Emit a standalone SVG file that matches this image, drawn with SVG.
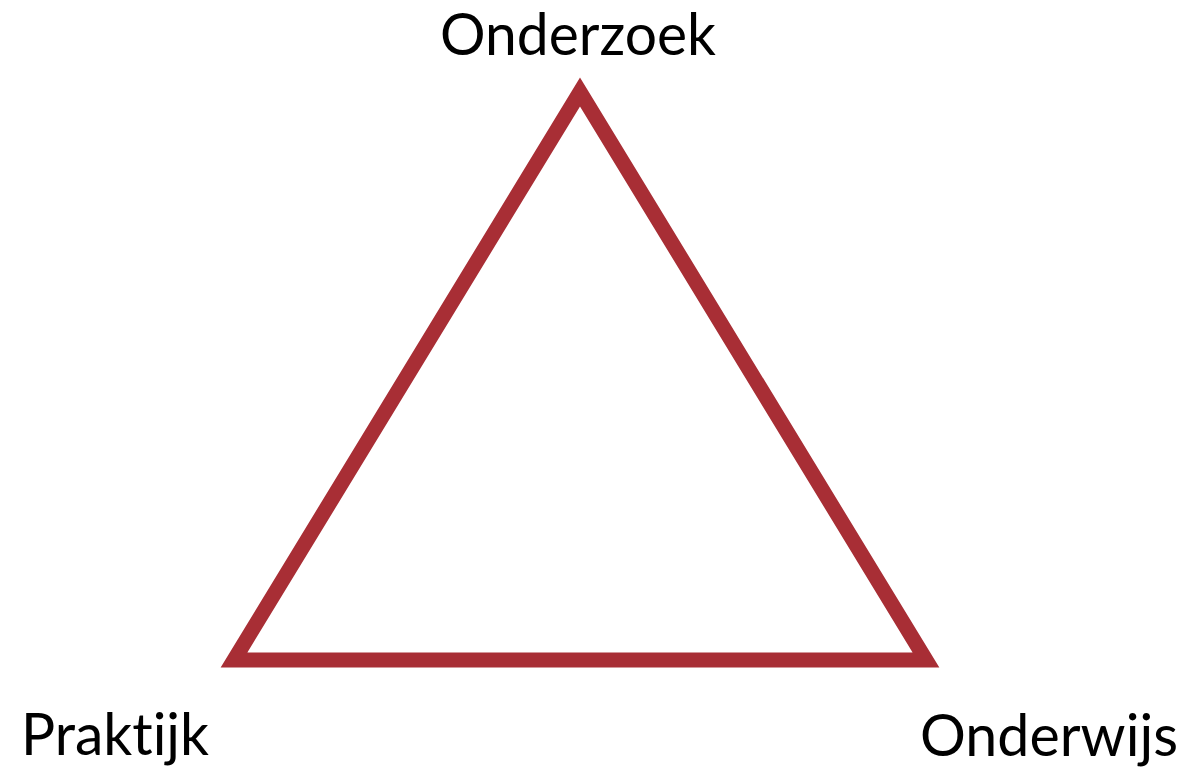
<svg xmlns="http://www.w3.org/2000/svg" width="1189" height="768" viewBox="0 0 1189 768">
<style>
.lbl{font-family:Lato,"Open Sans","Liberation Sans",sans-serif;font-size:58px;fill:#000;font-variant-ligatures:none;font-feature-settings:"liga" 0,"clig" 0}
.tri{fill:none;stroke:#A82E35;stroke-width:15;stroke-linejoin:miter;stroke-miterlimit:10}
</style>
<rect width="1189" height="768" fill="#fff"/>
<g id="connectors">
<polygon class="tri" points="580,92 926,660 234,660"/>
</g>
<g id="node-onderzoek"><text class="lbl" x="440" y="55" textLength="276" lengthAdjust="spacingAndGlyphs">Onderzoek</text></g>
<g id="node-praktijk"><text class="lbl" x="21" y="755" textLength="188" lengthAdjust="spacingAndGlyphs">Praktijk</text></g>
<g id="node-onderwijs"><text class="lbl" x="920" y="756" textLength="258" lengthAdjust="spacingAndGlyphs">Onderwijs</text></g>
</svg>
